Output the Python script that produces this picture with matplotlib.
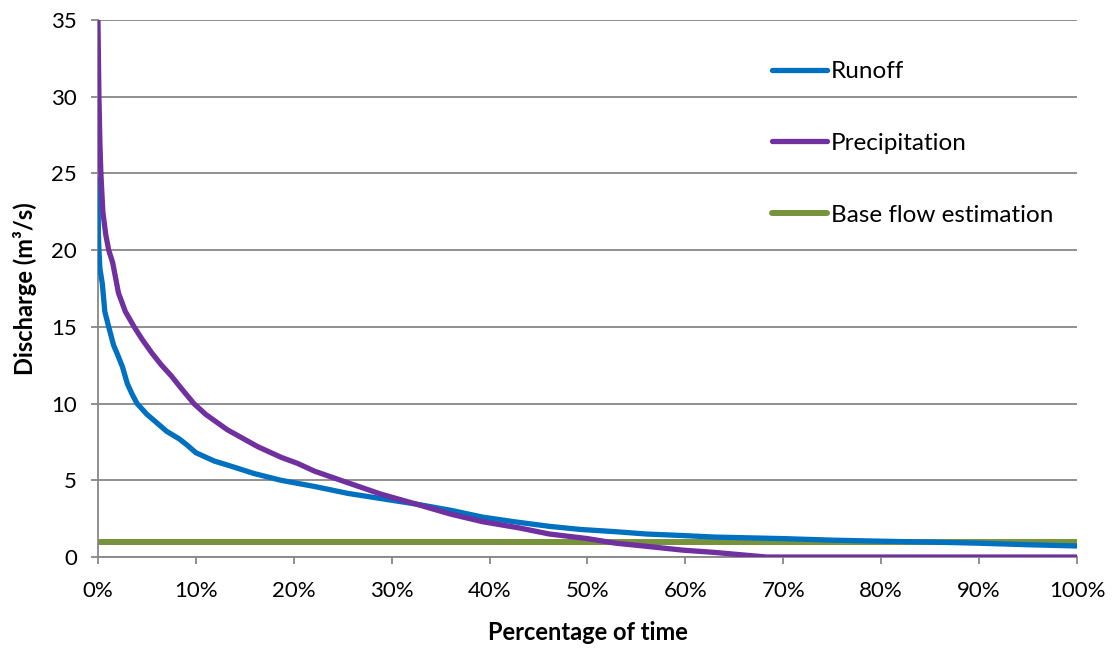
import matplotlib.pyplot as plt
from matplotlib.ticker import MultipleLocator, FuncFormatter

plt.rcParams['font.family'] = ['Lato', 'DejaVu Sans']

# Runoff duration curve (percentage of time, discharge)
runoff_pct = [0, 0.05, 0.1, 0.2, 0.45, 0.7, 1.1, 1.6, 2.0, 2.5, 3.0, 3.5, 4.0,
              5.0, 6.1, 7.0, 8.3, 9.1, 10.0, 11.9, 13.2, 15.9, 18.7, 22.1, 25.5,
              28.5, 32.5, 36.0, 39.3, 42.5, 46.1, 49.2, 52.9, 56.0, 59.7, 63.0,
              66.5, 70.0, 75.0, 80.0, 86.7, 90.0, 95.0, 100.0]
runoff_val = [24.6, 21.0, 20.0, 18.8, 17.8, 16.0, 15.0, 13.8, 13.2, 12.4, 11.3,
              10.6, 10.0, 9.3, 8.7, 8.2, 7.7, 7.3, 6.8, 6.25, 6.0, 5.45, 5.0, 4.6,
              4.15, 3.85, 3.45, 3.05, 2.6, 2.3, 2.0, 1.8, 1.65, 1.5, 1.4, 1.3,
              1.25, 1.2, 1.1, 1.03, 0.95, 0.9, 0.8, 0.72]

# Precipitation duration curve
precip_pct = [0, 0.1, 0.2, 0.3, 0.5, 0.8, 1.1, 1.5, 2.1, 2.8, 3.7, 4.5, 5.5,
              6.5, 7.5, 8.5, 9.8, 11.0, 13.2, 16.3, 18.7, 20.4, 22.1, 24.8, 28.9,
              32.5, 36.0, 39.3, 43.0, 46.1, 50.0, 52.9, 56.0, 59.7, 63.0, 66.5,
              68.3, 100.0]
precip_val = [35.0, 30.0, 27.0, 25.0, 22.5, 21.0, 20.0, 19.2, 17.2, 16.0, 15.0,
              14.2, 13.3, 12.5, 11.8, 11.0, 10.0, 9.3, 8.3, 7.2, 6.5, 6.1, 5.6,
              5.0, 4.1, 3.45, 2.8, 2.3, 1.9, 1.5, 1.2, 0.9, 0.7, 0.45, 0.3, 0.1,
              0.0, 0.0]

# Base flow estimation
base_pct = [0, 100]
base_val = [0.95, 0.95]

fig = plt.figure(figsize=(11.13, 6.48), dpi=100)
ax = fig.add_axes([0.088, 0.1404, 0.8797, 0.8287])

ax.plot(runoff_pct, runoff_val, color='#0070C0', lw=3.8, label='Runoff',
        solid_capstyle='round', zorder=3)
ax.plot(precip_pct, precip_val, color='#7030A0', lw=3.8, label='Precipitation',
        solid_capstyle='round', zorder=4)
ax.plot(base_pct, base_val, color='#77933C', lw=4.3, label='Base flow estimation',
        solid_capstyle='round', zorder=2)

ax.set_xlim(0, 100)
ax.set_ylim(0, 35)
ax.xaxis.set_major_locator(MultipleLocator(10))
ax.yaxis.set_major_locator(MultipleLocator(5))
ax.xaxis.set_major_formatter(FuncFormatter(lambda v, p: f"{v:.0f}%"))

ax.grid(axis='y', color='#878787', lw=1.3)
ax.set_axisbelow(True)
for s in ['top', 'right']:
    ax.spines[s].set_visible(False)
for s in ['left', 'bottom']:
    ax.spines[s].set_color('#878787')
    ax.spines[s].set_linewidth(1.3)
ax.tick_params(axis='both', colors='#878787', length=5, width=1.3,
               labelcolor='black', labelsize=16)
ax.tick_params(axis='y', pad=10)
ax.tick_params(axis='x', pad=12)

ax.set_xlabel('Percentage of time', fontsize=17, fontweight='bold', labelpad=15)
ax.set_ylabel('Discharge (m³/s)', fontsize=17, fontweight='bold', labelpad=10)

leg = ax.legend(loc='upper left', bbox_to_anchor=(0.676, 0.946), frameon=False,
                fontsize=17.5, labelspacing=2.09, handlelength=2.26,
                handletextpad=0.15, borderpad=0)

fig.savefig('out.png', dpi=100)
